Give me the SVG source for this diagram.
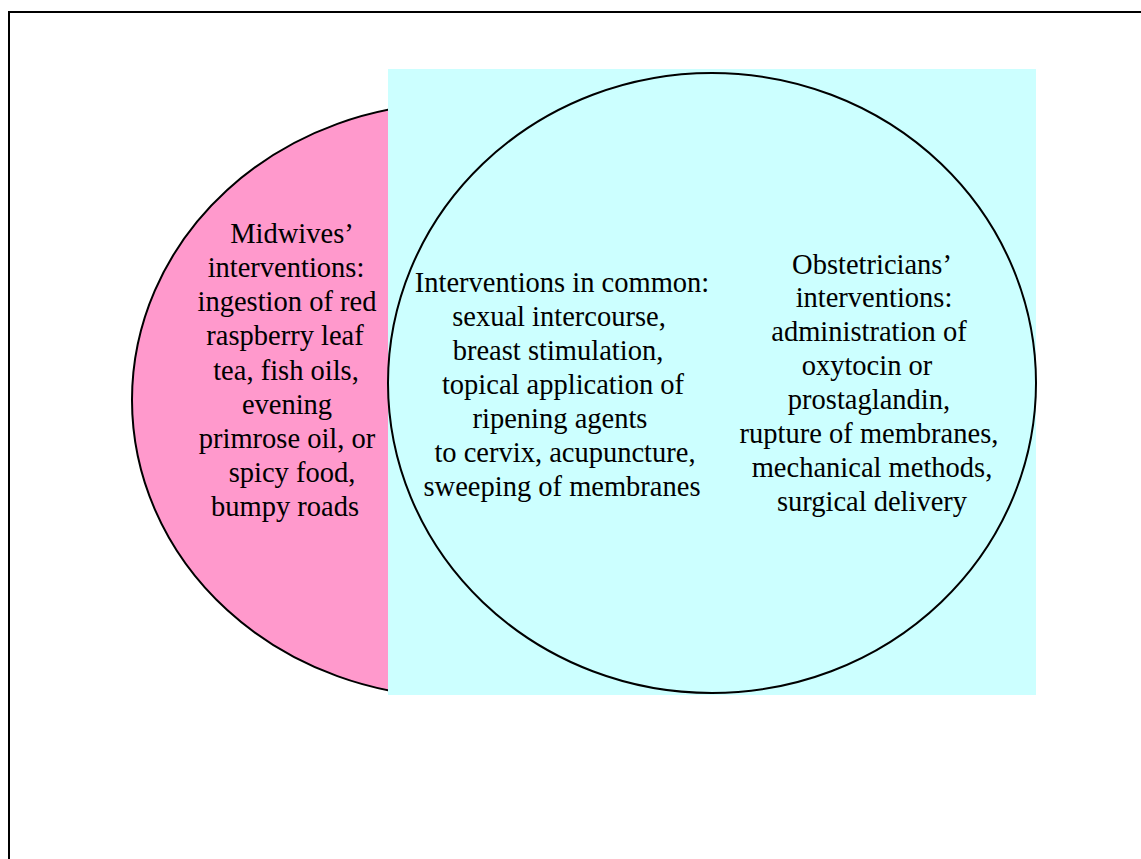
<svg xmlns="http://www.w3.org/2000/svg" width="1141" height="859" viewBox="0 0 1141 859">
<defs>
<clipPath id="leftClip"><rect x="0" y="0" width="389" height="859"/></clipPath>
</defs>
<style>
text{font-family:'Liberation Serif','Times New Roman',Times,'DejaVu Serif',serif;font-size:28.5px;fill:#000;text-anchor:middle}
.outline{fill:none;stroke:#000;stroke-width:2}
</style>
<rect width="1141" height="859" fill="#fff"/>
<path d="M9,900 V12 H1200" fill="none" stroke="#000" stroke-width="2"/>
<g id="midwives">
<ellipse cx="457" cy="400" rx="325" ry="297" fill="#FF99CC" stroke="#000" stroke-width="2" clip-path="url(#leftClip)"/>
<text x="292" y="243">Midwives’</text>
<text x="286" y="277">interventions:</text>
<text x="287" y="311">ingestion of red</text>
<text x="285" y="345">raspberry leaf</text>
<text x="286" y="380">tea, fish oils,</text>
<text x="287" y="414">evening</text>
<text x="287" y="448">primrose oil, or</text>
<text x="292" y="482">spicy food,</text>
<text x="285" y="516">bumpy roads</text>
</g>
<g id="obstetricians">
<rect x="388" y="69" width="648" height="626" fill="#CCFFFF"/>
<ellipse class="outline" cx="712" cy="383" rx="324" ry="310"/>
<text x="872" y="274">Obstetricians’</text>
<text x="874" y="307">interventions:</text>
<text x="869" y="341">administration of</text>
<text x="867" y="375">oxytocin or</text>
<text x="869" y="409">prostaglandin,</text>
<text x="869" y="443">rupture of membranes,</text>
<text x="872" y="477">mechanical methods,</text>
<text x="872" y="511">surgical delivery</text>
</g>
<g id="common">
<text x="562" y="292">Interventions in common:</text>
<text x="559" y="326">sexual intercourse,</text>
<text x="558" y="360">breast stimulation,</text>
<text x="563" y="394">topical application of</text>
<text x="560" y="428">ripening agents</text>
<text x="565" y="462">to cervix, acupuncture,</text>
<text x="562" y="496">sweeping of membranes</text>
</g>
<g id="connectors"></g>
</svg>
